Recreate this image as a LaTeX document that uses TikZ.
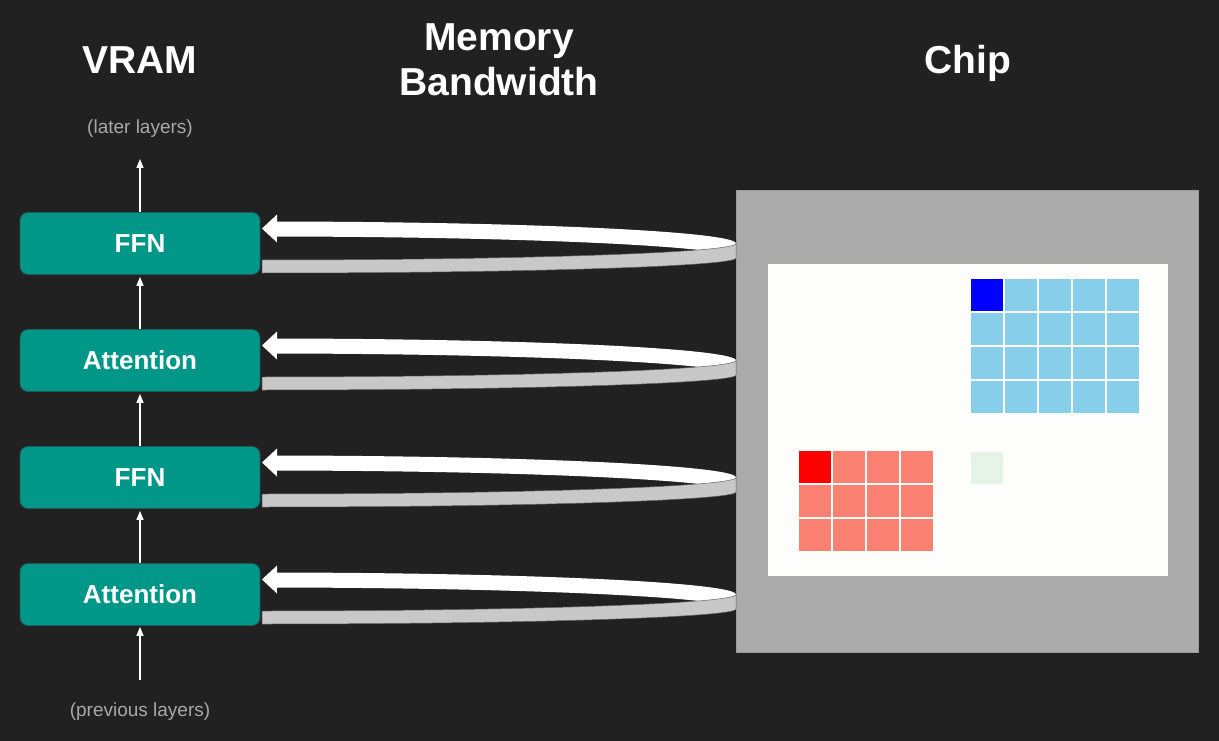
\documentclass[tikz,border=0pt]{standalone}
\usepackage{fontspec}
\setmainfont{Liberation Sans}
\usetikzlibrary{arrows.meta, positioning, calc}
\definecolor{bgc}{HTML}{212121}
\definecolor{tealc}{HTML}{009688}
\definecolor{edgec}{HTML}{1E5C55}
\definecolor{capc}{HTML}{A8A8A8}
\definecolor{chipc}{HTML}{ABABAB}
\definecolor{chipedge}{HTML}{9A9A9A}
\definecolor{diec}{HTML}{FDFDFB}
\definecolor{skyc}{HTML}{87CEEB}
\definecolor{salmonc}{HTML}{FA8072}
\definecolor{mintc}{HTML}{E6F4E8}
\definecolor{bandc}{HTML}{C8C8C8}

\begin{document}
\begin{tikzpicture}[x=1pt, y=-1pt, >=Stealth,
    title/.style={text=white, font=\fontsize{39}{45}\selectfont\bfseries,
                  align=center},
    layer/.style={rectangle, rounded corners=8pt, fill=tealc, draw=edgec,
                  line width=0.8pt, minimum width=240pt, minimum height=62pt,
                  text=white, font=\fontsize{26}{30}\selectfont\bfseries},
    note/.style={text=capc, font=\fontsize{19}{22}\selectfont},
    flow/.style={draw=white, line width=1.3pt,
                 -{Triangle[length=9pt, width=7pt]}}]
        % background
        \fill[bgc] (0,0) rectangle (1219,741);
        % titles
        \node[title, anchor=base] (vram) at (140,74) {VRAM};
        \node[title] (bw) at (499,59.5) {Memory\\Bandwidth};
        \node[title, anchor=base] (chiptitle) at (968,74) {Chip};
        % layers in VRAM
        \node[layer] (ffn2) at (140,243.5) {FFN};
        \node[layer] (attn2) at (140,360.5) {Attention};
        \node[layer] (ffn1) at (140,477.5) {FFN};
        \node[layer] (attn1) at (140,594.5) {Attention};
        \node[note] (later) at (140,129) {(later layers)};
        \node[note] (prev) at (140,712) {(previous layers)};
        \coordinate (upend) at (140,159);
        \coordinate (lowend) at (140,680);
        \draw[flow] (ffn2.north) -- (upend);
        \draw[flow, shorten >=2pt] (attn2.north) -- (ffn2.south);
        \draw[flow, shorten >=2pt] (ffn1.north) -- (attn2.south);
        \draw[flow, shorten >=2pt] (attn1.north) -- (ffn1.south);
        \draw[flow, shorten >=1pt] (lowend) -- (attn1.south);
        % chip with on-chip memory
        \node[draw=chipedge, fill=chipc, line width=0.8pt, inner sep=0pt,
              minimum width=462pt, minimum height=462pt] (chip) at (967,421) {};
        \node[fill=diec, inner sep=0pt, minimum width=400pt,
              minimum height=312pt] (die) at (968,420) {};
        \foreach \i in {0,...,4}
          \foreach \j in {0,...,3}
            \fill[skyc] ({971+34*\i},{279+34*\j}) rectangle ++(32,32);
        \fill[blue] (971,279) rectangle ++(32,32);
        \foreach \i in {0,...,3}
          \foreach \j in {0,...,2}
            \fill[salmonc] ({799+34*\i},{451+34*\j}) rectangle ++(32,32);
        \fill[red] (799,451) rectangle ++(32,32);
        \fill[mintc] (971,452) rectangle ++(32,32);
        % memory traffic bands
        \foreach \c in {243.5,360.5,477.5,594.5} {
          \fill[white] (262,{\c-15}) -- (277,{\c-29}) -- (277,{\c-22})
            -- plot[domain=88.2:0, samples=80, variable=\t]
               ({262+474*cos(\t)},{\c-22*sin(\t)})
            -- plot[domain=0:88.2, samples=80, variable=\t]
               ({262+474*cos(\t)},{\c+15-22*sin(\t)})
            -- (277,{\c-1}) -- cycle;
          \filldraw[fill=bandc, draw=black!60, line width=0.5pt] (736,\c)
            -- plot[domain=0:90, samples=80, variable=\t]
               ({262+474*cos(\t)},{\c+16.5*sin(\t)})
            -- plot[domain=90:0, samples=80, variable=\t]
               ({262+474*cos(\t)},{\c+14.5+15*sin(\t)})
            -- cycle;
        }
      \end{tikzpicture}
\end{document}
